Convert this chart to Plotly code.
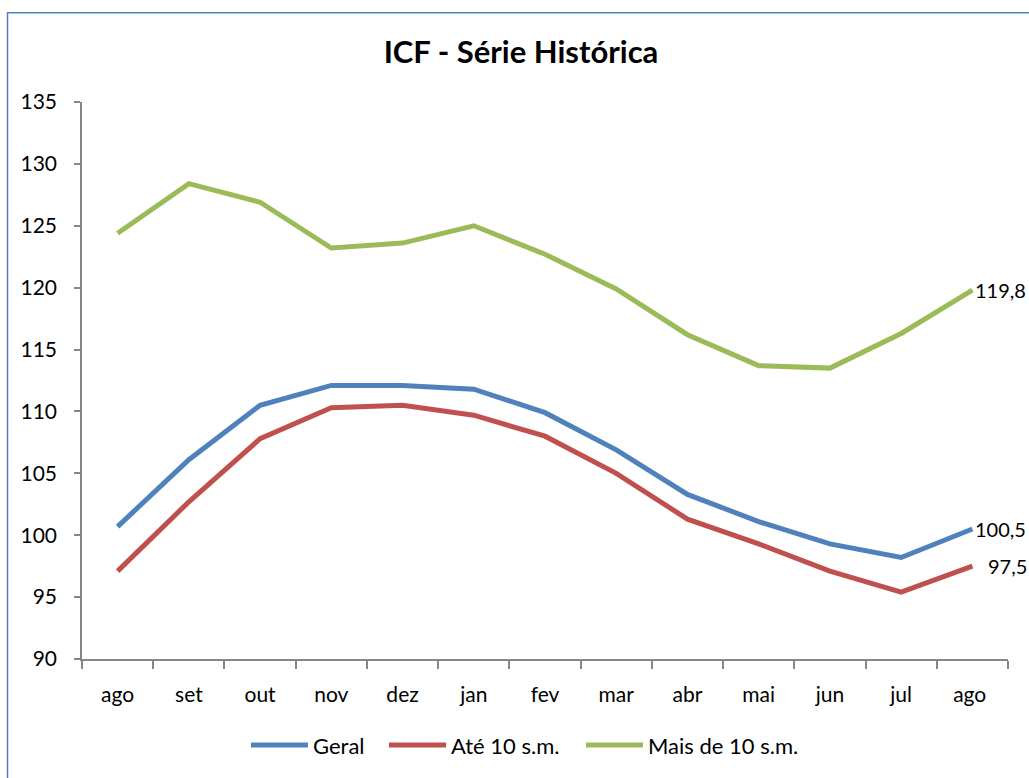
import plotly.graph_objects as go

months = ["ago", "set", "out", "nov", "dez", "jan", "fev", "mar", "abr", "mai", "jun", "jul", "ago "]
geral = [100.7, 106.1, 110.5, 112.1, 112.1, 111.8, 109.9, 106.9, 103.3, 101.1, 99.3, 98.2, 100.5]
ate10 = [97.1, 102.7, 107.8, 110.3, 110.5, 109.7, 108.0, 105.0, 101.3, 99.3, 97.1, 95.4, 97.5]
mais10 = [124.4, 128.4, 126.9, 123.2, 123.6, 125.0, 122.7, 119.9, 116.2, 113.7, 113.5, 116.3, 119.8]
y_ticks = [90, 95, 100, 105, 110, 115, 120, 125, 130, 135]
end_labels = ["100,5", "97,5", "119,8"]

FONT = "Lato"
names = ["Geral", "Até 10 s.m.", "Mais de 10 s.m."]
values = [geral, ate10, mais10]
colors = ["#4F81BD", "#C0504D", "#9BBB59"]
label_shift = [1, 14, 1]
legend_ids = ["legend", "legend2", "legend3"]
legend_px = [252, 390, 587]

W, H = 1029, 778
L, R, T, B = 82, 21, 102, 114
PW, PH = W - L - R, H - T - B

fig = go.Figure()
for name, vals, color, lid in zip(names, values, colors, legend_ids):
    fig.add_trace(go.Scatter(
        x=months, y=vals, name=name, mode="lines",
        line=dict(color=color, width=5),
        cliponaxis=False, legend=lid,
    ))
for vals, lab, sh in zip(values, end_labels, label_shift):
    fig.add_annotation(x=months[-1], y=vals[-1], text=lab, showarrow=False,
                       xanchor="left", yanchor="middle", xshift=sh,
                       font=dict(family=FONT, size=20, color="#000000"))

leg_common = dict(orientation="h", xanchor="left", yanchor="middle",
                  y=(664 - 751) / PH, font=dict(family=FONT, size=22),
                  itemwidth=57, bgcolor="rgba(0,0,0,0)")
layout_legends = {}
for lid, px in zip(legend_ids, legend_px):
    layout_legends[lid] = dict(leg_common, x=(px - 6 - L) / PW)

fig.update_layout(
    width=W, height=H,
    margin=dict(l=L, r=R, t=T, b=B),
    paper_bgcolor="white", plot_bgcolor="white",
    font=dict(family=FONT, size=21, color="#000000"),
    title=dict(text="<b>ICF - Série Histórica</b>", x=521 / W, xanchor="center",
               y=1 - 52 / H, yanchor="middle",
               font=dict(family=FONT, size=31, color="#000000")),
    showlegend=True,
    **layout_legends,
)
fig.update_xaxes(
    type="category", range=[-0.5, 12.5], tickson="boundaries",
    showline=True, linecolor="#868686", linewidth=1.5,
    ticks="outside", ticklen=8, tickcolor="#868686", tickwidth=1.5,
    showgrid=False, zeroline=False, ticklabelstandoff=16,
)
fig.update_yaxes(
    range=[90, 135], tickvals=y_ticks, ticktext=[str(v) for v in y_ticks],
    showline=True, linecolor="#868686", linewidth=1.5,
    ticks="outside", ticklen=6, tickcolor="#868686", tickwidth=1.5,
    showgrid=False, zeroline=False, ticklabelstandoff=13,
)
fig.add_shape(type="rect", xref="paper", yref="paper",
              x0=(7.5 - L) / PW, x1=(1045 - L) / PW,
              y0=(664 - 800) / PH, y1=(664 - 12) / PH,
              line=dict(color="#4F81BD", width=1.5), fillcolor="rgba(0,0,0,0)", layer="below")

fig.write_html("out.html", config={"displayModeBar": False},
               post_script="document.body.style.margin='0';document.body.style.overflow='hidden';")
